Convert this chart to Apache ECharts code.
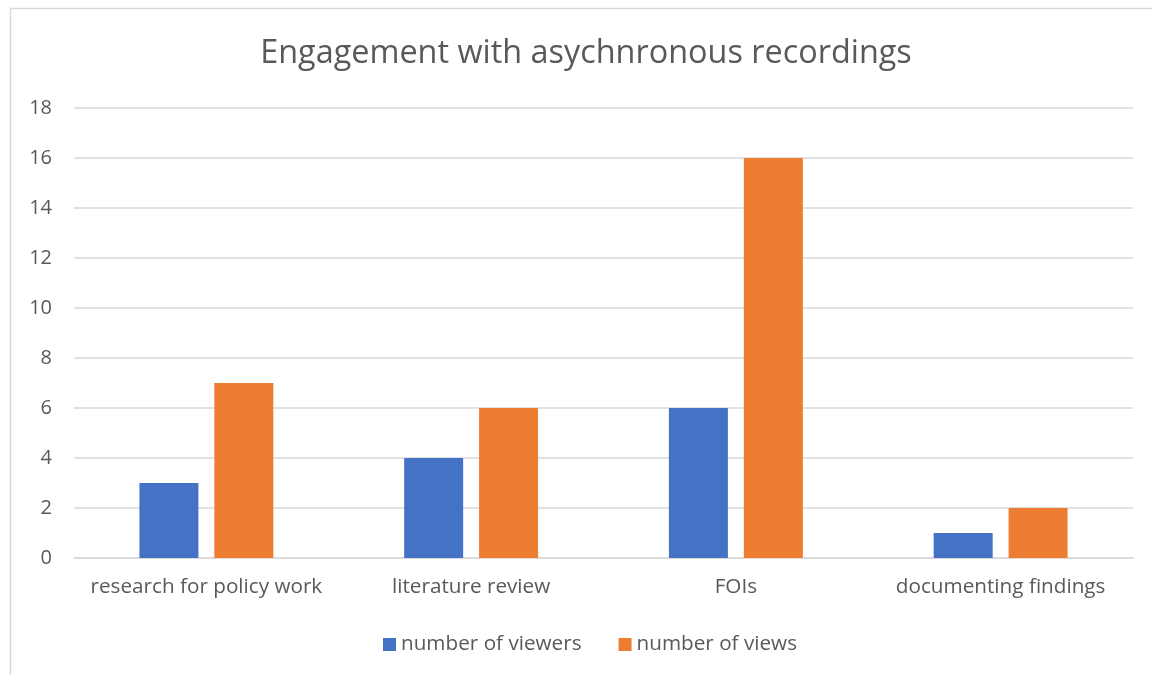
<!DOCTYPE html>
<html>
<head>
<meta charset="utf-8">
<script src="https://cdn.jsdelivr.net/npm/echarts@6/dist/echarts.min.js"></script>
<style>
html,body{margin:0;padding:0;background:#fff;}
#c{width:1152px;height:675px;}
</style>
</head>
<body>
<div id="c"></div>
<script>
const categories = ['research for policy work', 'literature review', 'FOIs', 'documenting findings'];
const viewers = [3, 4, 6, 1];
const views = [7, 6, 16, 2];
const seriesNames = ['number of viewers', 'number of views'];

const chart = echarts.init(document.getElementById('c'));
const font = '"Open Sans", sans-serif';
chart.setOption({
  animation: false,
  backgroundColor: '#fff',
  graphic: [{
    type: 'rect',
    shape: {x: 10.5, y: 8.5, width: 1160, height: 700},
    style: {fill: 'none', stroke: '#d9d9d9', lineWidth: 1.5},
    silent: true
  }],
  title: {
    text: 'Engagement with asychnronous recordings',
    left: 581, top: 33, textAlign: 'center',
    textStyle: {fontFamily: font, fontSize: 32.4, fontWeight: 'normal', color: '#595959'}
  },
  legend: {
    data: seriesNames,
    left: 378, top: 629,
    itemWidth: 13, itemHeight: 13, itemGap: 37,
    icon: 'rect',
    textStyle: {fontFamily: font, fontSize: 20.7, color: '#595959', padding: [0,0,0,0]}
  },
  grid: {left: 74, right: 19, top: 108, bottom: 117},
  xAxis: {
    type: 'category', data: categories,
    axisLine: {lineStyle: {color: '#d9d9d9', width: 1.5}},
    axisTick: {show: false},
    axisLabel: {fontFamily: font, fontSize: 20.7, color: '#595959', margin: 19, interval: 0}
  },
  yAxis: {
    type: 'value', min: 0, max: 18, interval: 2,
    axisLine: {show: false}, axisTick: {show: false},
    splitLine: {lineStyle: {color: '#d9d9d9', width: 1.5}},
    axisLabel: {fontFamily: font, fontSize: 20, color: '#595959', margin: 22}
  },
  series: [
    {name: seriesNames[0], type: 'bar', data: viewers, barWidth: 59, barGap: '27%', itemStyle: {color: '#4472c4'}},
    {name: seriesNames[1], type: 'bar', data: views, barWidth: 59, barGap: '27%', itemStyle: {color: '#ed7d31'}}
  ]
});
</script>
</body>
</html>
